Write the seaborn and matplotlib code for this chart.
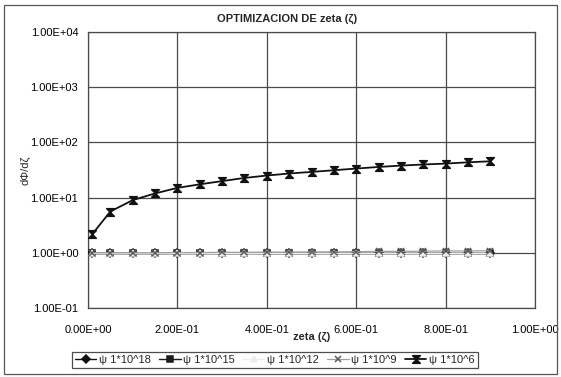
import matplotlib
matplotlib.use("Agg")
import matplotlib.pyplot as plt
import seaborn as sns
import pandas as pd
from matplotlib.ticker import FuncFormatter, FixedLocator, NullLocator
from matplotlib.patches import Rectangle
from matplotlib.path import Path

# ---- data -------------------------------------------------------------
zeta = [0.01, 0.05, 0.10, 0.15, 0.20, 0.25, 0.30, 0.35, 0.40, 0.45,
        0.50, 0.55, 0.60, 0.65, 0.70, 0.75, 0.80, 0.85, 0.90]

psi_1e18 = [1.00, 1.00, 1.00, 1.00, 1.00, 1.00, 1.00, 1.00, 1.00, 1.00,
            1.00, 1.00, 1.00, 1.00, 1.00, 1.00, 1.00, 1.00, 1.00]
psi_1e15 = [1.00, 1.00, 1.00, 1.00, 1.00, 1.00, 1.00, 1.00, 1.00, 1.00,
            1.00, 1.00, 1.00, 1.00, 1.00, 1.00, 1.00, 1.00, 1.00]
psi_1e12 = [1.00, 1.00, 1.00, 1.00, 1.00, 1.00, 1.00, 1.00, 1.00, 1.00,
            1.00, 1.00, 1.00, 1.00, 1.00, 1.00, 1.00, 1.00, 1.00]
psi_1e9 = [1.00, 1.00, 1.00, 1.00, 1.01, 1.01, 1.02, 1.02, 1.03, 1.03,
           1.04, 1.04, 1.05, 1.06, 1.06, 1.07, 1.08, 1.08, 1.09]
psi_1e6 = [2.2, 5.6, 9.0, 11.9, 15.0, 17.4, 19.9, 22.7, 25.1, 27.3,
           29.2, 31.3, 33.6, 35.9, 38.0, 39.8, 41.3, 43.6, 45.5]

series_labels = ["\u03c8 1*10^18", "\u03c8 1*10^15", "\u03c8 1*10^12",
                 "\u03c8 1*10^9", "\u03c8 1*10^6"]
series_values = [psi_1e18, psi_1e15, psi_1e12, psi_1e9, psi_1e6]

x_ticks = [0.0, 0.2, 0.4, 0.6, 0.8, 1.0]
y_ticks = [0.1, 1.0, 10.0, 100.0, 1000.0, 10000.0]

# ---- style ------------------------------------------------------------
sns.set_theme(style="white")
plt.rcParams["font.family"] = ["Liberation Sans Narrow", "Liberation Sans", "DejaVu Sans"]

hourglass = Path([(-1, 1), (1, 1), (-1, -1), (1, -1), (-1, 1)],
                 [Path.MOVETO, Path.LINETO, Path.LINETO, Path.LINETO, Path.CLOSEPOLY])

styles = [
    dict(color="#111111", edge="#111111", marker="D", ms=4.5, lw=1.0),
    dict(color="#1c1c1c", edge="#1c1c1c", marker="s", ms=4.0, lw=1.0),
    dict(color="#ececec", edge="#ececec", marker="^", ms=4.5, lw=1.0),
    dict(color="#a0a0a0", edge="#5a5a5a", marker="x", ms=5.0, lw=0.9),
    dict(color="#111111", edge="#111111", marker=hourglass, ms=5.5, lw=1.3),
]

fig = plt.figure(figsize=(5.61, 3.77), dpi=100)
fig.patch.set_facecolor("white")
ax = fig.add_axes([88 / 561, 1 - 308 / 377, (535 - 88) / 561, (308 - 32) / 377])

for i, (label, vals, st) in enumerate(zip(series_labels, series_values, styles)):
    df = pd.DataFrame({"zeta": zeta, "v": vals})
    sns.lineplot(data=df, x="zeta", y="v", ax=ax, label=label, errorbar=None,
                 color=st["color"], lw=st["lw"], marker=st["marker"],
                 markersize=st["ms"], markerfacecolor=st["color"],
                 markeredgecolor=st["edge"], markeredgewidth=1.1,
                 zorder=3 + i)

ax.set_yscale("log")
ax.set_xlim(0, 1.0)
ax.set_ylim(0.1, 10000)
ax.xaxis.set_major_locator(FixedLocator(x_ticks))
ax.yaxis.set_major_locator(FixedLocator(y_ticks))
ax.yaxis.set_minor_locator(NullLocator())
fmt = FuncFormatter(lambda v, p: f"{v:.2E}")
ax.xaxis.set_major_formatter(fmt)
ax.yaxis.set_major_formatter(fmt)

ax.grid(True, which="major", color="#4a4a4a", lw=0.9)
ax.set_axisbelow(True)
for s in ax.spines.values():
    s.set_color("#4a4a4a")
    s.set_linewidth(0.9)

ax.tick_params(axis="both", which="major", direction="out", length=3,
               width=0.8, color="#4a4a4a", labelsize=8, labelcolor="black")
ax.tick_params(axis="x", pad=9)
ax.tick_params(axis="y", pad=4)

ax.set_xlabel("zeta (\u03b6)", fontsize=8, fontweight="bold", labelpad=-2)
ax.set_ylabel("d\u03a6/d\u03b6", fontsize=8)
ax.yaxis.set_label_coords(-0.128, 0.5)
fig.text(287 / 561, 1 - 19 / 377, "OPTIMIZACION DE zeta (\u03b6)",
         ha="center", va="center", fontsize=8, fontweight="bold")

handles, labels = ax.get_legend_handles_labels()
ax.get_legend().remove()
leg = fig.legend(handles, labels, loc="center", ncol=5,
                 bbox_to_anchor=(275 / 561, 1 - 360 / 377),
                 fontsize=8, frameon=True, fancybox=False, shadow=False,
                 handlelength=1.9, handletextpad=0.25, columnspacing=0.75,
                 borderpad=0.3, borderaxespad=0)
leg.get_frame().set_edgecolor("#222222")
leg.get_frame().set_linewidth(0.9)

# chart-area border
fig.patches.append(Rectangle((4 / 561, 3 / 377), 553 / 561, 369 / 377,
                             transform=fig.transFigure, fill=False,
                             edgecolor="#555555", lw=0.9))

fig.savefig("out.png", dpi=100)
